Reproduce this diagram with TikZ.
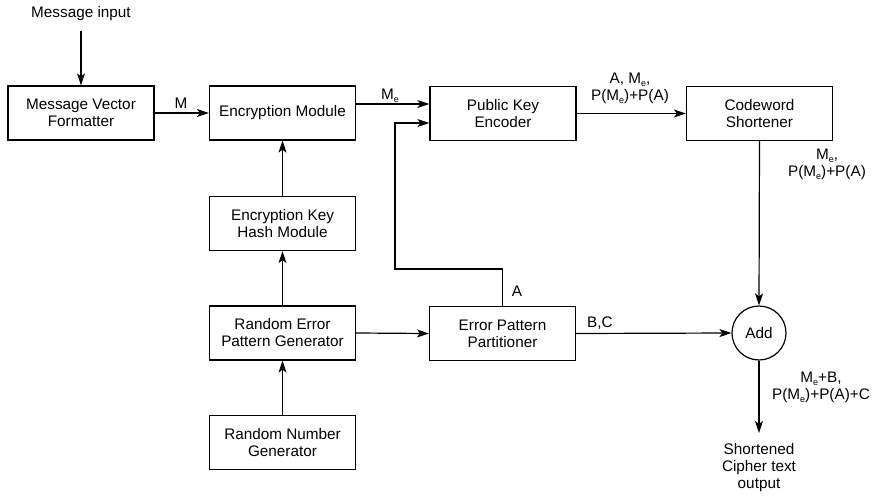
\documentclass[tikz,border=0pt]{standalone}
\usepackage{fontspec}
\setmainfont{Liberation Sans}
\usetikzlibrary{arrows.meta}
\newcommand{\subE}{\raisebox{-0.35ex}{\fontsize{9}{9}\selectfont e}}
\begin{document}
\begin{tikzpicture}[x=1pt,y=-1pt,
  every node/.style={font=\fontsize{15.3}{17}\selectfont},
  blk/.style={draw,line width=1.2pt,minimum width=146pt,minimum height=54pt,align=center,inner sep=0pt},
  lbl/.style={align=center,inner sep=0pt},
  arr/.style={line width=1.2pt,-{Stealth[length=12pt,width=8pt,inset=3pt]}},
  ln/.style={line width=1.2pt}]
\useasboundingbox (0,0) rectangle (879,498);
\node[blk] (mvf) at (81,113) {Message Vector\\Formatter};
\node[blk] (em) at (282.5,113) {Encryption Module};
\node[blk] (pke) at (503,113.5) {Public Key\\Encoder};
\node[blk] (cs) at (759.5,113.5) {Codeword\\Shortener};
\node[blk] (ekh) at (282.5,223.5) {Encryption Key\\Hash Module};
\node[blk] (repg) at (282.5,333) {Random Error\\Pattern Generator};
\node[blk] (epp) at (502.5,333.5) {Error Pattern\\Partitioner};
\node[blk] (rng) at (282.5,442.5) {Random Number\\Generator};
\node[draw,circle,line width=1.2pt,minimum size=54pt,inner sep=0pt] (add) at (759,333) {Add};
\node[lbl] (min) at (81,14) {Message input};
\node[lbl,anchor=north] (out) at (759,443) {Shortened\\Cipher text\\output};
\coordinate (bend1) at (395,123);
\coordinate (bend2) at (395,269);
\coordinate (bend3) at (502.5,269);
\coordinate (pkein2) at (pke.west |- bend1);
\coordinate (outend) at (759,433);
% connectors
\draw[arr] (min.south) ++(0,10) -- (mvf.north);
\draw[arr] (mvf.east) -- (em.west);
\draw[arr] (em.east |- 0,104) -- (pke.west |- 0,104);
\draw[arr] (bend3) -- (bend2) -- (bend1) -- (pkein2);
\draw[ln] (epp.north) -- (bend3);
\draw[arr] (pke.east) -- (cs.west |- pke.east);
\draw[arr] (cs.south) -- (add.north);
\draw[arr] (epp.east) -- (add.west);
\draw[arr] (add.south) -- (outend);
\draw[arr] (rng.north) -- (repg.south);
\draw[arr] (repg.north) -- (ekh.south);
\draw[arr] (ekh.north) -- (em.south);
\draw[arr] (repg.east) -- (epp.west);
% labels
\node[lbl] (lm) at (181,103) {M};
\node[lbl] (lme) at (390,96) {M\subE};
\node[lbl] (lpke) at (630,88) {A, M\subE,\\P(M\subE)+P(A)};
\node[lbl] (lcs) at (827,164) {M\subE,\\P(M\subE)+P(A)};
\node[lbl] (la) at (517,291) {A};
\node[lbl,anchor=west] (lbc) at (587,323) {B,C};
\node[lbl] (lout) at (821,387) {M\subE+B,\\P(M\subE)+P(A)+C};
\end{tikzpicture}
\end{document}
